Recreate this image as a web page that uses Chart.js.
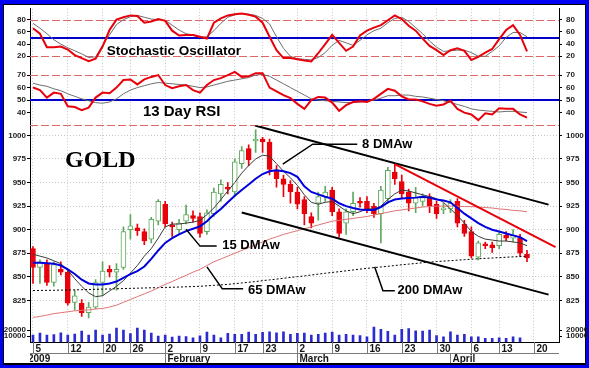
<!DOCTYPE html>
<html>
<head>
<meta charset="utf-8">
<script src="https://cdn.jsdelivr.net/npm/chart.js@4.4.0/dist/chart.umd.min.js"></script>
<style>
  html, body { margin: 0; padding: 0; background: #fff; }
</style>
</head>
<body>
<canvas id="goldChart" width="589" height="368"></canvas>
<script>
// daily gold candles, Jan 5 - Apr 16 2009 (trading days)
const openP = [880, 860, 865, 844, 858, 855, 823, 822, 812, 818,
  844, 858, 855, 860, 900, 902, 898, 890, 909, 927,
  905, 900, 909, 915, 914, 898, 917, 938, 945, 940,
  970, 986, 994, 996, 993, 962, 954, 948, 940, 932,
  914, 928, 935, 942, 919, 907, 919, 930, 930, 925,
  917, 933, 961, 951, 940, 928, 930, 935, 927, 921,
  922, 930, 906, 898, 871, 885, 884, 883, 894, 891,
  891, 874];
const highP = [882, 868, 868, 866, 866, 858, 836, 826, 823, 847,
  866, 862, 864, 903, 916, 906, 901, 913, 932, 930,
  908, 911, 926, 920, 918, 921, 944, 953, 950, 975,
  988, 990, 1006, 998, 996, 968, 958, 952, 945, 935,
  918, 940, 946, 945, 922, 922, 940, 934, 935, 928,
  946, 966, 970, 958, 943, 945, 938, 938, 930, 928,
  932, 933, 910, 903, 888, 887, 887, 898, 898, 900,
  895, 878];
const lowP = [843, 843, 841, 840, 852, 820, 815, 808, 802, 816,
  830, 850, 836, 858, 890, 894, 884, 886, 905, 903,
  893, 896, 906, 908, 892, 895, 914, 930, 938, 935,
  965, 968, 982, 982, 958, 945, 935, 928, 922, 905,
  902, 910, 930, 915, 892, 895, 915, 924, 918, 913,
  886, 928, 948, 933, 920, 918, 925, 918, 912, 917,
  918, 903, 893, 870, 868, 880, 876, 880, 888, 887,
  872, 866];
const closeP = [860, 866, 844, 863, 855, 822, 830, 812, 818, 844,
  856, 855, 858, 898, 904, 899, 888, 911, 930, 906,
  903, 907, 916, 912, 896, 918, 940, 948, 943, 972,
  984, 974, 996, 993, 964, 954, 948, 940, 927, 917,
  907, 935, 940, 919, 896, 919, 928, 928, 922, 917,
  942, 963, 954, 938, 928, 934, 934, 925, 917, 922.5,
  928, 907, 896, 872, 886, 883, 881, 895, 891, 894,
  875, 870];
const volume = [11700, 15000, 11700, 12500, 15500, 11700, 13300, 18300, 11700, 20000,
  11700, 13300, 23300, 20000, 14200, 23300, 20000, 15000, 10000, 11700,
  8300, 10000, 9000, 7200, 10500, 16700, 11700, 7200, 14500, 12800,
  12800, 16700, 12800, 16200, 17200, 15500, 17200, 12800, 14500, 15000,
  11700, 12800, 15000, 16700, 11700, 12800, 11700, 10800, 8800, 25000,
  21200, 18000, 11700, 21200, 22800, 18800, 18300, 20000, 10800, 8800,
  17200, 11700, 12800, 8800, 8800, 6200, 6200, 7200, 6200, 8800,
  7200, null];

// moving averages
const ma8 = [874, 872, 870, 867, 864, 857, 848, 840, 833, 829,
  830, 835, 840, 846, 854, 862, 872, 880, 891, 903,
  906, 906, 907, 908, 910, 916, 923, 932, 941, 950,
  960, 968, 975, 979, 978, 970, 962, 955, 947, 937,
  929, 927, 929, 930, 925, 920, 917, 919, 922, 922,
  925, 932, 938, 942, 941, 939, 937, 935, 933, 929,
  922, 915, 907, 898, 893, 890, 889, 888, 888, 887,
  886, 883];
const ma15 = [865, 865, 864.5, 864, 862, 858, 853, 847, 843, 842,
  842, 843, 845, 849, 853, 856, 861, 869, 878, 886,
  891, 895, 898.5, 901, 903.5, 909, 916, 922, 929, 936,
  942, 948, 954, 959, 962, 963, 962, 960, 956, 946,
  940, 937.5, 935, 933, 928, 925, 923, 921.5, 921, 921,
  924, 929, 932, 933, 933.5, 934, 935, 934, 932, 931,
  929, 923, 917, 912, 907, 903, 900, 898, 896, 894,
  892, 888];
const ma65 = [807, 808, 809.5, 811, 812, 813, 814, 814.5, 815, 816,
  816.5, 818, 820, 823, 826, 829, 832, 835, 838.5, 842,
  845, 848.5, 851.5, 855, 858, 862, 866, 869, 872, 875,
  878, 881, 884, 887, 890, 892.5, 895, 897, 899, 901,
  903, 905, 907, 909, 910, 911, 912, 913, 914, 915.5,
  917, 918.5, 920, 921, 922, 923, 924, 924.5, 925, 925,
  925, 925, 924.5, 924.5, 924, 923.5, 923, 922, 921.5, 920.5,
  920, 919];
const ma200 = [835.5, 835.6, 835.7, 835.8, 836, 836.1, 836.2, 836.4, 836.6, 836.8,
  837, 837.2, 837.4, 837.6, 837.8, 838, 838.2, 838.4, 838.6, 838.8,
  839, 839.2, 839.5, 839.7, 840, 840.5, 841, 841.5, 842, 842.8,
  843.5, 844.3, 845, 846, 846.8, 847.6, 848.5, 849.4, 850.2, 851,
  852, 852.9, 853.8, 854.7, 855.5, 856.4, 857.3, 858.2, 859, 859.8,
  860.5, 861.2, 862, 862.8, 863.5, 864.2, 865, 865.6, 866.2, 866.7,
  867.2, 867.7, 868.2, 868.7, 869.2, 869.6, 870, 870.4, 870.8, 871.2,
  871.5, 871.8];

// oscillators
const stochK = [66, 57, 35, 35, 36, 31, 22, 17, 12, 16,
  36, 63, 80, 84, 87, 86, 75, 77, 81, 78,
  62, 54, 55, 55, 52, 49, 75, 82, 87, 89,
  90, 88, 85, 75, 52, 30, 17, 17, 15, 13,
  11.5, 25, 40, 55, 42, 29, 36, 54, 62, 67,
  71, 79, 87, 81, 70, 62, 49, 37, 30, 22,
  30, 33, 29, 14, 19, 26, 32, 48, 63, 71,
  55, 28];
const stochD = [74, 66, 57, 47, 40, 34, 29, 24, 18, 19,
  38, 55, 72, 80, 85, 87, 84, 81, 80, 79,
  71, 63, 57, 55, 51, 52, 62, 74, 84, 88,
  90, 89, 87, 82, 73, 52, 33, 20, 16, 15,
  14, 18, 26, 38, 46, 42, 38, 46, 55, 62,
  66, 75, 82, 84, 77, 67, 57, 45, 35, 28,
  29, 30, 30, 26, 20, 20, 28, 37, 51, 59,
  59, 52];
const rsi = [60, 58, 52, 56, 55, 45, 44.5, 42, 44, 52,
  56, 55.5, 60, 66, 66.5, 62.5, 66.5, 68.5, 70, 62,
  59.5, 61, 62, 58, 56, 62, 66, 67.5, 70, 72.5,
  68.5, 69, 71.5, 71.5, 60, 57, 54, 51.5, 47, 43,
  50, 52.5, 52, 48, 41.5, 46, 48.5, 49, 48.5, 51,
  55, 59, 57.5, 53, 50.5, 50.5, 49, 47, 45.5, 46.5,
  49.5, 43, 40, 38.5, 34, 39.5, 38.5, 43.5, 43, 43,
  38.5, 36];
const rsiSignal = [63.5, 62, 61, 59, 57.5, 55, 53, 51, 49.5, 48,
  47.5, 48.5, 51, 55, 58, 60, 61.5, 63, 64, 63.5,
  63, 62.5, 62, 61, 60, 60.5, 62, 63.5, 65, 66,
  67, 68, 70, 70.5, 69, 66, 63, 60, 57, 54,
  51, 50, 49.5, 49, 48.5, 48, 48, 48.5, 49, 50,
  51.5, 53.5, 53.5, 54, 54, 53, 52.5, 51.5, 50.5, 49.5,
  48, 46.5, 45, 43, 42, 41.5, 41, 40.5, 41, 41,
  40.5, 40];

// axis ticks
const weekTicks = [0, 5, 10, 14, 19, 24, 29, 33, 38, 43, 48, 53, 58, 63, 67, 72];
const weekLabels = ['5', '12', '20', '26', '2', '9', '17', '23', '2', '9', '16', '23', '30', '6', '13', '20'];
const monthStarts = [0, 19, 38, 60];
const monthLabels = ['2009', 'February', 'March', 'April'];
const stochTicks = [80, 60, 40, 20];
const rsiTicks = [70, 60, 50, 40];
const priceTicks = [1000, 975, 950, 925, 900, 875, 850, 825];
const volTicks = [20000, 10000];

// hand drawn trend lines [day index, price]
const channelUpper = [[31.9, 1010.5], [74.1, 926.6]];
const channelLower = [[30.0, 918.2], [74.1, 831.2]];
const redTrend = [[52.0, 969.6], [75.1, 881.6]];

// labels and their pointers, in data units
const priceNotes = [
  { text: '8 DMAw', at: [47.3, 986.4], leader: [[35.9, 969.6], [40.2, 990.6], [46.6, 990.6]] },
  { text: '15 DMAw', at: [27.2, 879.5], leader: [[22.0, 900.4], [24.0, 882.6], [26.4, 882.6]] },
  { text: '65 DMAw', at: [30.9, 832.3], leader: [[25.0, 860.6], [27.2, 837.5], [30.2, 837.5]] },
  { text: '200 DMAw', at: [52.4, 832.3], leader: [[49.1, 860.6], [50.3, 835.4], [52.0, 835.4]] }
];

const days = closeP.map((_, i) => i);
const up = closeP.map((c, i) => c >= openP[i]);
const UP = '#5fa85f';
const DOWN = '#e8000b';
const pts = arr => days.map(i => ({ x: i, y: arr[i] }));
const seg = arr => arr.map(p => ({ x: p[0], y: p[1] }));

Chart.defaults.font.family = 'Liberation Sans';

const tickFont = { family: 'Liberation Sans', size: 8, weight: 'bold' };

function setTicks(values) {
  return scale => { scale.ticks = values.map(v => ({ value: v })); };
}

// one panel axis; left ones carry the data, right ones mirror the labels
function panelAxis(position, weight, min, max, ticks, dotted) {
  return {
    type: 'linear',
    position: position,
    stack: position,
    stackWeight: weight,
    min: min,
    max: max,
    afterBuildTicks: setTicks(ticks),
    afterFit: s => { s.width = position === 'left' ? 26 : 30; },
    ticks: {
      font: tickFont, color: '#1c1c1c', autoSkip: false,
      padding: position === 'left' ? 1 : 4,
      callback: v => String(v)
    },
    grid: { drawOnChartArea: dotted, color: '#c6c6c6', tickLength: 3, tickColor: '#000' },
    border: { color: '#000', width: 1, dash: dotted ? [1, 2] : [] }
  };
}

const framePlugin = {
  id: 'frame',
  beforeDraw(chart) {
    const ctx = chart.ctx;
    ctx.save();
    ctx.fillStyle = '#0000f2';
    ctx.fillRect(0, 0, chart.width, chart.height);
    ctx.fillStyle = '#000';
    ctx.fillRect(3, 4, chart.width - 6, chart.height - 7);
    ctx.fillStyle = '#fff';
    ctx.fillRect(4, 5, chart.width - 8, chart.height - 10);
    ctx.restore();
  },
  beforeDatasetsDraw(chart) {
    const { ctx, chartArea, scales } = chart;
    const hline = (scale, v, color, width, dash) => {
      const y = Math.round(scale.getPixelForValue(v)) + (width % 2 ? 0.5 : 0);
      ctx.save();
      ctx.strokeStyle = color;
      ctx.lineWidth = width;
      ctx.setLineDash(dash);
      ctx.beginPath();
      ctx.moveTo(chartArea.left, y);
      ctx.lineTo(chartArea.right, y);
      ctx.stroke();
      ctx.restore();
    };
    [80, 20].forEach(v => hline(scales.yStoch, v, '#e36666', 1, [8, 3]));
    [70, 30].forEach(v => hline(scales.yRsi, v, '#e36666', 1, [8, 3]));
    hline(scales.yStoch, 50, '#0000cc', 2, []);
    hline(scales.yRsi, 50, '#0000cc', 2, []);
  },
  afterDatasetsDraw(chart) {
    const { ctx, scales } = chart;
    const x = scales.x, yp = scales.yPrice;
    ctx.save();
    ctx.fillStyle = '#000';
    ctx.strokeStyle = '#000';
    ctx.lineWidth = 1.5;
    ctx.textBaseline = 'alphabetic';
    priceNotes.forEach(n => {
      ctx.beginPath();
      n.leader.forEach((p, k) => {
        const px = x.getPixelForValue(p[0]), py = yp.getPixelForValue(p[1]);
        if (k === 0) ctx.moveTo(px, py); else ctx.lineTo(px, py);
      });
      ctx.stroke();
      ctx.font = 'bold 13px "Liberation Sans"';
      ctx.fillText(n.text, x.getPixelForValue(n.at[0]), yp.getPixelForValue(n.at[1]));
    });
    ctx.font = 'bold 13.5px "Liberation Sans"';
    ctx.fillText('Stochastic Oscillator', x.getPixelForValue(10.6), scales.yStoch.getPixelForValue(21.7));
    ctx.font = 'bold 15px "Liberation Sans"';
    ctx.fillText('13 Day RSI', x.getPixelForValue(15.8), scales.yRsi.getPixelForValue(37.6));
    ctx.font = 'bold 24px "Liberation Serif"';
    ctx.fillText('GOLD', x.getPixelForValue(4.6), yp.getPixelForValue(966.5));
    ctx.restore();
  },
  afterDraw(chart) {
    const { ctx, chartArea } = chart;
    const x = chart.scales.x;
    const b = chartArea.bottom;
    ctx.save();
    ctx.strokeStyle = '#7a7a7a';
    ctx.lineWidth = 1;
    ctx.fillStyle = '#161616';
    ctx.font = 'bold 10px "Liberation Sans"';
    ctx.textBaseline = 'alphabetic';
    weekTicks.forEach((t, k) => {
      const px = Math.round(x.getPixelForValue(t)) + 0.5;
      ctx.beginPath();
      ctx.moveTo(px, b);
      ctx.lineTo(px, b + 11);
      ctx.stroke();
      ctx.fillText(weekLabels[k], px + 2, b + 10);
    });
    ctx.beginPath();
    ctx.moveTo(chartArea.left, b + 11.5);
    ctx.lineTo(chartArea.right, b + 11.5);
    ctx.stroke();
    ctx.beginPath();
    ctx.rect(chartArea.left, b, chartArea.right - chartArea.left, 26);
    ctx.clip();
    monthStarts.forEach((t, k) => {
      const px = Math.round(x.getPixelForValue(t)) + 0.5;
      if (k > 0) {
        ctx.beginPath();
        ctx.moveTo(px, b + 11);
        ctx.lineTo(px, b + 21);
        ctx.stroke();
      }
      ctx.fillText(monthLabels[k], k === 0 ? chartArea.left - 2 : px + 2, b + 20);
    });
    ctx.restore();
  }
};

new Chart(document.getElementById('goldChart'), {
  type: 'bar',
  data: {
    datasets: [
      { label: 'wick', yAxisID: 'yPrice', data: days.map(i => ({ x: i, y: [lowP[i], highP[i]] })),
        backgroundColor: up.map(u => u ? UP : DOWN), barThickness: 1, grouped: false, order: 10 },
      { label: 'body', yAxisID: 'yPrice', data: days.map(i => ({ x: i, y: [openP[i], closeP[i]] })),
        backgroundColor: up.map(u => u ? '#fff' : DOWN), borderColor: up.map(u => u ? UP : DOWN),
        borderWidth: 1, borderSkipped: false, barThickness: 5, minBarLength: 2, grouped: false, order: 9 },
      { label: 'volume', yAxisID: 'yVol', data: pts(volume),
        backgroundColor: '#2b2bd0', barThickness: 2, grouped: false, order: 9 },
      { type: 'line', label: '200 DMAw', yAxisID: 'yPrice', data: pts(ma200),
        borderColor: '#000', borderWidth: 1, borderDash: [2, 2], pointRadius: 0, order: 8 },
      { type: 'line', label: '65 DMAw', yAxisID: 'yPrice', data: pts(ma65),
        borderColor: '#e07474', borderWidth: 1, pointRadius: 0, order: 7 },
      { type: 'line', label: '8 DMAw', yAxisID: 'yPrice', data: pts(ma8),
        borderColor: '#3a3a3a', borderWidth: 1, pointRadius: 0, order: 6 },
      { type: 'line', label: '15 DMAw', yAxisID: 'yPrice', data: pts(ma15),
        borderColor: '#0000dd', borderWidth: 2, pointRadius: 0, order: 5 },
      { type: 'line', label: 'channel top', yAxisID: 'yPrice', data: seg(channelUpper),
        borderColor: '#000', borderWidth: 2, pointRadius: 0, order: 3 },
      { type: 'line', label: 'channel bottom', yAxisID: 'yPrice', data: seg(channelLower),
        borderColor: '#000', borderWidth: 2, pointRadius: 0, order: 3 },
      { type: 'line', label: 'red trend', yAxisID: 'yPrice', data: seg(redTrend),
        borderColor: '#e8000b', borderWidth: 2, pointRadius: 0, order: 2 },
      { type: 'line', label: '%D', yAxisID: 'yStoch', data: pts(stochD),
        borderColor: '#6e6e6e', borderWidth: 1, pointRadius: 0, order: 4 },
      { type: 'line', label: '%K', yAxisID: 'yStoch', data: pts(stochK),
        borderColor: '#e8000b', borderWidth: 2, pointRadius: 0, order: 3 },
      { type: 'line', label: 'RSI avg', yAxisID: 'yRsi', data: pts(rsiSignal),
        borderColor: '#6e6e6e', borderWidth: 1, pointRadius: 0, order: 4 },
      { type: 'line', label: 'RSI', yAxisID: 'yRsi', data: pts(rsi),
        borderColor: '#e8000b', borderWidth: 2, pointRadius: 0, order: 3 }
    ]
  },
  options: {
    responsive: false,
    animation: false,
    devicePixelRatio: 1,
    events: [],
    layout: { padding: { left: 4, right: 0, top: 5, bottom: 0 }, autoPadding: false },
    plugins: { legend: { display: false }, tooltip: { enabled: false } },
    scales: {
      x: {
        type: 'linear', min: -0.43, max: 75.6, offset: false,
        afterBuildTicks: setTicks(weekTicks),
        afterFit: s => { s.height = 26; },
        ticks: { display: false },
        grid: { offset: false, color: '#c6c6c6', drawTicks: false },
        border: { color: '#000', dash: [1, 2] }
      },
      // left stack: last one declared sits on top
      yVol: panelAxis('left', 24, 0, 40000, volTicks, false),
      yPrice: panelAxis('left', 195, 806.1, 1010.5, priceTicks, true),
      yRsi: panelAxis('left', 58, 29.74, 75.52, rsiTicks, false),
      yStoch: panelAxis('left', 60, 0.59, 97.83, stochTicks, false),
      // right stack: first one declared sits on top
      rStoch: panelAxis('right', 60, 0.59, 97.83, stochTicks, false),
      rRsi: panelAxis('right', 58, 29.74, 75.52, rsiTicks, false),
      rPrice: panelAxis('right', 195, 806.1, 1010.5, priceTicks, false),
      rVol: panelAxis('right', 24, 0, 40000, volTicks, false)
    }
  },
  plugins: [framePlugin]
});
</script>
</body>
</html>
